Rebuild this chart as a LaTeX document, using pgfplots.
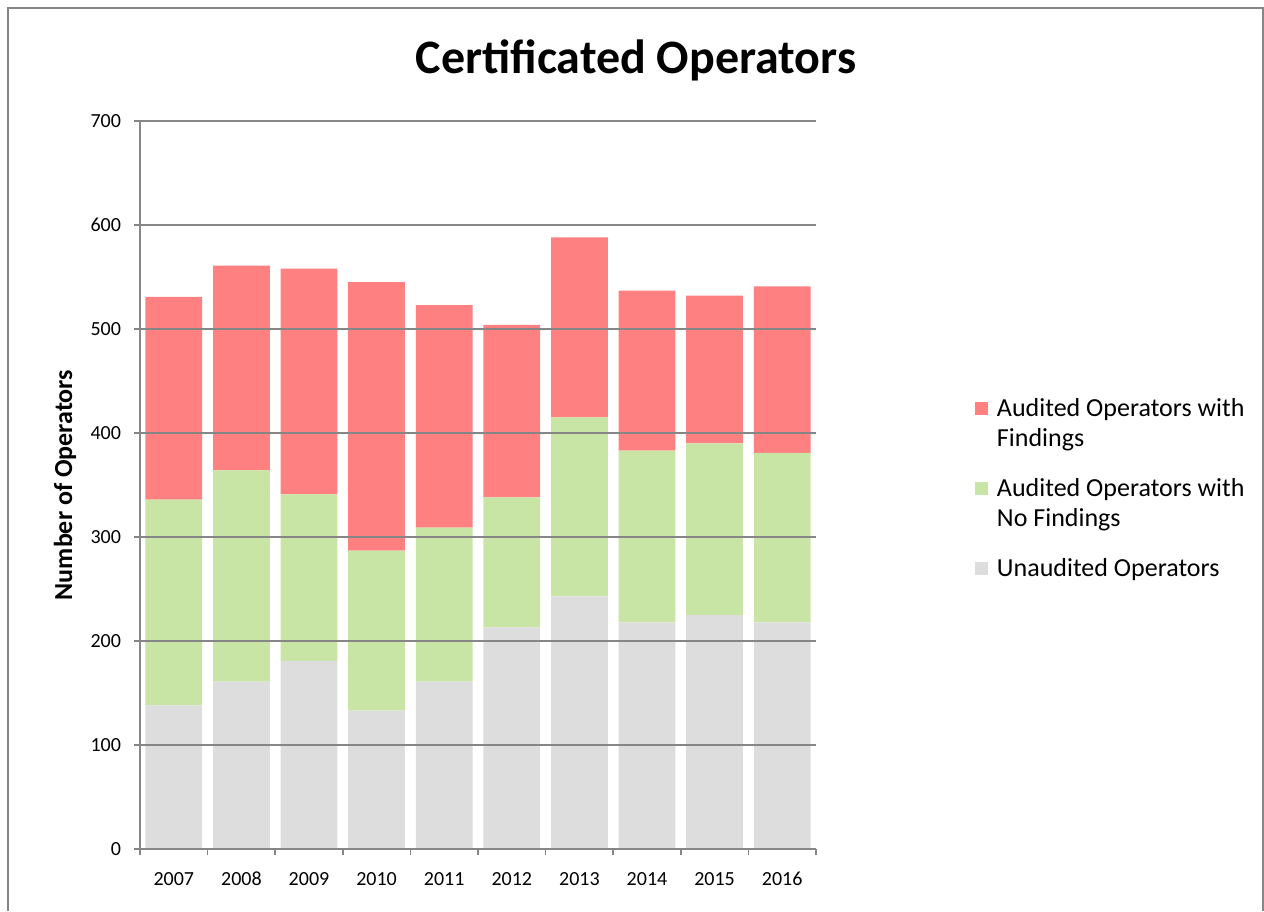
\documentclass[border=0pt]{standalone}
\usepackage{fontspec}
\setmainfont{Carlito}
\usepackage{pgfplots}
\pgfplotsset{compat=1.18}
\definecolor{findred}{RGB}{255,128,128}
\definecolor{nofindgreen}{RGB}{200,229,165}
\definecolor{unaudgrey}{RGB}{221,221,221}
\definecolor{gridgrey}{RGB}{134,134,134}
% square legend box, raised by #1 so that it sits on the first line of the entry
\pgfplotsset{sqlegend/.style={legend image code/.code={\fill[##1,draw=none] (0pt,0.4pt+#1) rectangle (6.5pt,6.9pt+#1);}}}
\begin{document}
\begin{tikzpicture}
  \useasboundingbox (0pt,0pt) rectangle (632pt,455.5pt);
  \draw[gridgrey, line width=1pt] (4pt,0pt) -- (4pt,451.5pt) -- (631.5pt,451.5pt) -- (631.5pt,0pt);
  \node[font=\fontsize{24}{28}\selectfont\bfseries] at (318pt,425.5pt) {Certificated Operators};
  \begin{axis}[
      at={(70pt,31pt)}, anchor=south west,
      scale only axis, width=338pt, height=364pt,
      ybar stacked, bar width=0.84,
      xmin=-0.5, xmax=9.5, ymin=0, ymax=700,
      xtick={0,...,9},
      xticklabels={2007,2008,2009,2010,2011,2012,2013,2014,2015,2016},
      minor xtick={-0.5,0.5,...,9.5},
      ytick={0,100,...,700},
      major x tick style={draw=none},
      tick align=outside, major tick length=3pt, minor tick length=3pt,
      tick style={gridgrey, line width=0.75pt},
      axis x line*=bottom, axis y line*=left,
      axis line style={gridgrey, line width=0.75pt},
      ymajorgrids, grid style={gridgrey, line width=0.8pt},
      axis on top,
      /pgf/number format/assume math mode=true,
      tick label style={font=\fontsize{10}{12}\selectfont},
      xticklabel style={yshift=-5pt},
      yticklabel style={xshift=-3pt},
      ylabel={Number of Operators},
      every axis y label/.style={at={(axis description cs:-0.111,0.5)}, rotate=90, anchor=center, font=\fontsize{13}{15}\selectfont\bfseries},
      reverse legend,
      legend style={at={(axis description cs:1.2352,0.6195)}, anchor=north west,
        draw=none, fill=none, inner sep=0pt, outer sep=0pt,
        font=\fontsize{13}{15}\selectfont,
        nodes={inner sep=0pt, align=left},
        cells={anchor=base west},
        column sep=4.5pt, row sep=14.5pt},
    ]
    \addplot[fill=unaudgrey, draw=none, sqlegend=0pt] coordinates {(0,138) (1,161) (2,181) (3,133) (4,161) (5,213) (6,243) (7,218) (8,225) (9,218)};
    \addlegendentry{Unaudited Operators}
    \addplot[fill=nofindgreen, draw=none, sqlegend=15pt] coordinates {(0,198) (1,203) (2,160) (3,154) (4,148) (5,125) (6,172) (7,165) (8,165) (9,163)};
    \addlegendentry{Audited Operators with\\No Findings}
    \addplot[fill=findred, draw=none, sqlegend=15pt] coordinates {(0,195) (1,197) (2,217) (3,258) (4,214) (5,166) (6,173) (7,154) (8,142) (9,160)};
    \addlegendentry{Audited Operators with\\Findings}
  \end{axis}
\end{tikzpicture}
\end{document}
